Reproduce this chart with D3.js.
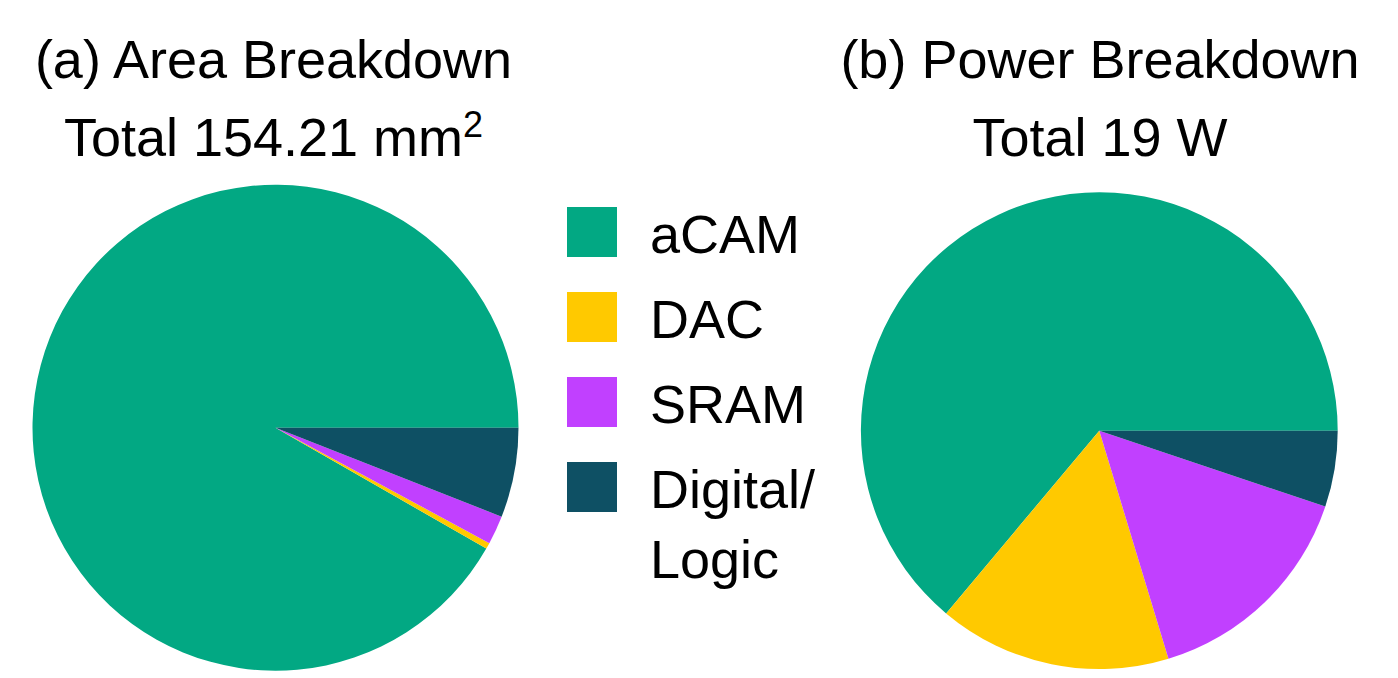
<!DOCTYPE html>
<html>
<head>
<meta charset="UTF-8"/>
<title>Area and Power Breakdown</title>
<script src="https://d3js.org/d3.v7.min.js"></script>
<style>
body { margin: 0; background: white; }
text { font-family: "Liberation Sans", Arial, sans-serif; fill: black; }
</style>
</head>
<body>
<div id="chart"></div>
<script>

// DATA
var categories = ["aCAM", "DAC", "SRAM", "Digital/Logic"];
var legendLabels = [["aCAM"], ["DAC"], ["SRAM"], ["Digital/", "Logic"]];
var colors = ["#02a883", "#ffc900", "#c140ff", "#0e5064"];
var areaValues = [141.43, 0.63, 2.95, 9.20];    // mm^2, total 154.21
var powerValues = [12.14, 3.00, 2.88, 0.98];    // W, total 19

var W = 1398, H = 678;
var svg = d3.select("#chart").append("svg")
    .attr("width", W)
    .attr("height", H);

var color = d3.scaleOrdinal().domain(categories).range(colors);

// matplotlib style: start at 3 o'clock, go counterclockwise
var pie = d3.pie()
    .sort(null)
    .startAngle(Math.PI / 2)
    .endAngle(Math.PI / 2 - 2 * Math.PI);

function drawPie(values, cx, cy, r) {
    var arc = d3.arc().innerRadius(0).outerRadius(r);
    var g = svg.append("g").attr("transform", "translate(" + cx + "," + cy + ")");
    g.selectAll("path")
        .data(pie(values))
        .enter().append("path")
        .attr("d", arc)
        .attr("fill", function(d, i) { return color(categories[i]); });
}

drawPie(areaValues, 275.5, 427.7, 243);
drawPie(powerValues, 1099.3, 430.7, 238.4);

// titles
var fs = 54;
svg.append("text").attr("x", 273.5).attr("y", 78)
    .attr("text-anchor", "middle").attr("font-size", fs)
    .text("(a) Area Breakdown");
var t2 = svg.append("text").attr("x", 273.5).attr("y", 156)
    .attr("text-anchor", "middle").attr("font-size", fs);
t2.append("tspan").text("Total 154.21 mm");
t2.append("tspan").attr("font-size", 36).attr("dy", -19).text("2");

svg.append("text").attr("x", 1100).attr("y", 78)
    .attr("text-anchor", "middle").attr("font-size", fs)
    .text("(b) Power Breakdown");
svg.append("text").attr("x", 1100).attr("y", 156)
    .attr("text-anchor", "middle").attr("font-size", fs)
    .text("Total 19 W");

// legend
var legend = svg.append("g");
var item = legend.selectAll("g")
    .data(categories)
    .enter().append("g")
    .attr("transform", function(d, i) { return "translate(567," + (207 + i * 85) + ")"; });

item.append("rect")
    .attr("width", 50)
    .attr("height", 50)
    .attr("fill", function(d) { return color(d); });

item.append("text")
    .attr("x", 83)
    .attr("y", 46)
    .attr("font-size", fs)
    .selectAll("tspan")
    .data(function(d, i) { return legendLabels[i]; })
    .enter().append("tspan")
    .attr("x", 83)
    .attr("dy", function(d, j) { return j === 0 ? 0 : 70; })
    .text(function(d) { return d; });

</script>
</body>
</html>
